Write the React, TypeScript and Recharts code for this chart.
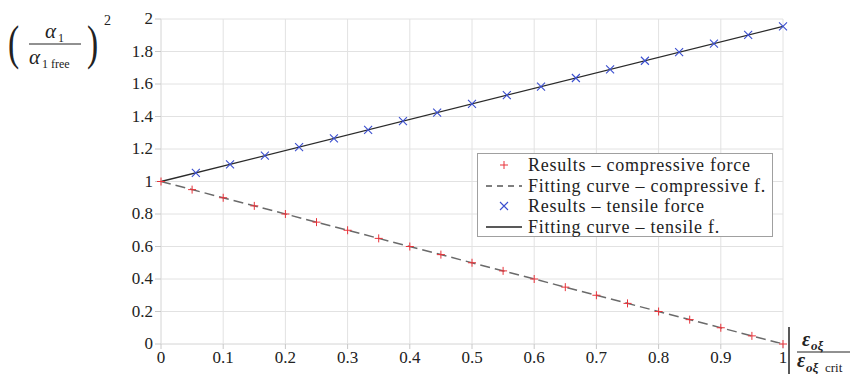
import {
  ComposedChart,
  Scatter,
  Line,
  XAxis,
  YAxis,
  CartesianGrid,
} from "recharts";

const xTicks = [0, 0.1, 0.2, 0.3, 0.4, 0.5, 0.6, 0.7, 0.8, 0.9, 1];
const yTicks = [0, 0.2, 0.4, 0.6, 0.8, 1, 1.2, 1.4, 1.6, 1.8, 2];

const compX = [0, 0.05, 0.1, 0.15, 0.2, 0.25, 0.3, 0.35, 0.4, 0.45, 0.5, 0.55, 0.6, 0.65, 0.7, 0.75, 0.8, 0.85, 0.9, 0.95, 1];
const compY = [1, 0.95, 0.9, 0.85, 0.8, 0.75, 0.7, 0.65, 0.6, 0.55, 0.5, 0.45, 0.4, 0.35, 0.3, 0.25, 0.2, 0.15, 0.1, 0.05, 0];

const tensX = [0.056, 0.111, 0.167, 0.222, 0.278, 0.333, 0.389, 0.444, 0.5, 0.556, 0.611, 0.667, 0.722, 0.778, 0.833, 0.889, 0.944, 1];
const tensY = [1.053, 1.106, 1.159, 1.212, 1.265, 1.318, 1.371, 1.424, 1.478, 1.531, 1.584, 1.637, 1.69, 1.743, 1.796, 1.849, 1.902, 1.955];

const fitCompX = [0, 1];
const fitCompY = [1, 0];
const fitTensX = [0, 1];
const fitTensY = [1, 1.955];

const legendLabels = [
  "Results – compressive force",
  "Fitting curve – compressive f.",
  "Results – tensile force",
  "Fitting curve – tensile f.",
];

const zip = (xs: number[], ys: number[]) => xs.map((x, i) => ({ x, y: ys[i] }));

const FONT = "'Liberation Serif', 'DejaVu Serif', serif";
const RED = "#e8333a";
const BLUE = "#3b4fcf";
const INK = "#222";

const Plus = (p: any) => (
  <path d={`M${p.cx - 4},${p.cy}H${p.cx + 4}M${p.cx},${p.cy - 4}V${p.cy + 4}`} stroke={RED} strokeWidth={1} fill="none" />
);
const Cross = (p: any) => (
  <path
    d={`M${p.cx - 4},${p.cy - 4}L${p.cx + 4},${p.cy + 4}M${p.cx - 4},${p.cy + 4}L${p.cx + 4},${p.cy - 4}`}
    stroke={BLUE}
    strokeWidth={1.1}
    fill="none"
  />
);

const XTick = (p: any) => (
  <text x={p.x} y={p.y + 12} textAnchor="middle" style={{ fontFamily: FONT }} fontSize={17} fill={INK}>
    {p.payload.value}
  </text>
);
const YTick = (p: any) => (
  <text x={p.x} y={p.y + 5} textAnchor="end" style={{ fontFamily: FONT }} fontSize={17} fill={INK}>
    {p.payload.value}
  </text>
);

function LegendBox() {
  const sym = (i: number) => {
    if (i === 0) return <path d="M16,7H24M20,3V11" stroke={RED} strokeWidth={1} />;
    if (i === 1) return <line x1={2} y1={7} x2={38} y2={7} stroke="#555" strokeWidth={1.3} strokeDasharray="6 5" />;
    if (i === 2) return <path d="M16,3L24,11M16,11L24,3" stroke={BLUE} strokeWidth={1.1} />;
    return <line x1={2} y1={7} x2={38} y2={7} stroke={INK} strokeWidth={1.3} />;
  };
  return (
    <div
      style={{
        position: "absolute",
        left: 477,
        top: 153,
        width: 296,
        height: 84,
        border: "1px solid #a0a0a0",
        background: "#fff",
        boxSizing: "border-box",
        padding: "1px 0 0 6px",
        fontFamily: FONT,
        fontSize: 18,
        letterSpacing: 0.75,
        color: INK,
        lineHeight: "20.5px",
      }}
    >
      {legendLabels.map((label, i) => (
        <div key={label} style={{ display: "flex", alignItems: "center", whiteSpace: "nowrap" }}>
          <svg width={40} height={14} style={{ marginRight: 4 }}>
            {sym(i)}
          </svg>
          <span>{label}</span>
        </div>
      ))}
    </div>
  );
}

export default function App() {
  return (
    <div style={{ position: "absolute", left: 0, top: 0, width: 855, height: 374, background: "#fff" }}>
      <ComposedChart width={855} height={374} margin={{ top: 19, right: 72, bottom: 0, left: 0 }}>
        <CartesianGrid stroke="#e2e2e2" strokeWidth={1} />
        <XAxis
          type="number"
          dataKey="x"
          domain={[0, 1]}
          ticks={xTicks}
          height={30}
          tickSize={5}
          axisLine={{ stroke: "#e2e2e2" }}
          tickLine={{ stroke: "#c8c8c8" }}
          tick={XTick}
        />
        <YAxis
          type="number"
          dataKey="y"
          domain={[0, 2]}
          ticks={yTicks}
          width={161}
          tickSize={6}
          axisLine={{ stroke: "#e2e2e2" }}
          tickLine={{ stroke: "#c8c8c8" }}
          tick={YTick}
        />
        <Line data={zip(fitCompX, fitCompY)} dataKey="y" type="linear" stroke="#6a6a6a" strokeWidth={1.5} strokeDasharray="10 5" dot={false} isAnimationActive={false} />
        <Line data={zip(fitTensX, fitTensY)} dataKey="y" type="linear" stroke="#2a2a2a" strokeWidth={1.3} dot={false} isAnimationActive={false} />
        <Scatter data={zip(compX, compY)} dataKey="y" shape={Plus} isAnimationActive={false} />
        <Scatter data={zip(tensX, tensY)} dataKey="y" shape={Cross} isAnimationActive={false} />
      </ComposedChart>

      <LegendBox />

      <svg width={855} height={374} style={{ position: "absolute", left: 0, top: 0, pointerEvents: "none", fontFamily: FONT }} fill={INK}>
        {/* y axis label */}
        <text x={8} y={59} fontSize={48} transform="translate(8 59) scale(0.7 1) translate(-8 -59)">(</text>
        <text x={45} y={38} fontSize={21} fontStyle="italic">α</text>
        <text x={58} y={42} fontSize={12}>1</text>
        <line x1={29} y1={44} x2={81} y2={44} stroke={INK} strokeWidth={1} />
        <text x={29} y={64} fontSize={21} fontStyle="italic">α</text>
        <text x={42} y={68} fontSize={12}>1 free</text>
        <text x={87} y={59} fontSize={48} transform="translate(87 59) scale(0.7 1) translate(-87 -59)">)</text>
        <text x={104} y={25} fontSize={14}>2</text>

        {/* x axis label */}
        <line x1={789} y1={327} x2={789} y2={374} stroke={INK} strokeWidth={1.5} />
        <text x={802} y={346} fontSize={20} fontStyle="italic" fontWeight="bold">ε</text>
        <text x={811} y={350} fontSize={13} fontStyle="italic" fontWeight="bold">oξ</text>
        <line x1={797} y1={352} x2={850} y2={352} stroke={INK} strokeWidth={1} />
        <text x={797} y={367} fontSize={20} fontStyle="italic" fontWeight="bold">ε</text>
        <text x={806} y={372} fontSize={13} fontStyle="italic" fontWeight="bold">oξ</text>
        <text x={825} y={372} fontSize={13}>crit</text>
      </svg>
    </div>
  );
}
